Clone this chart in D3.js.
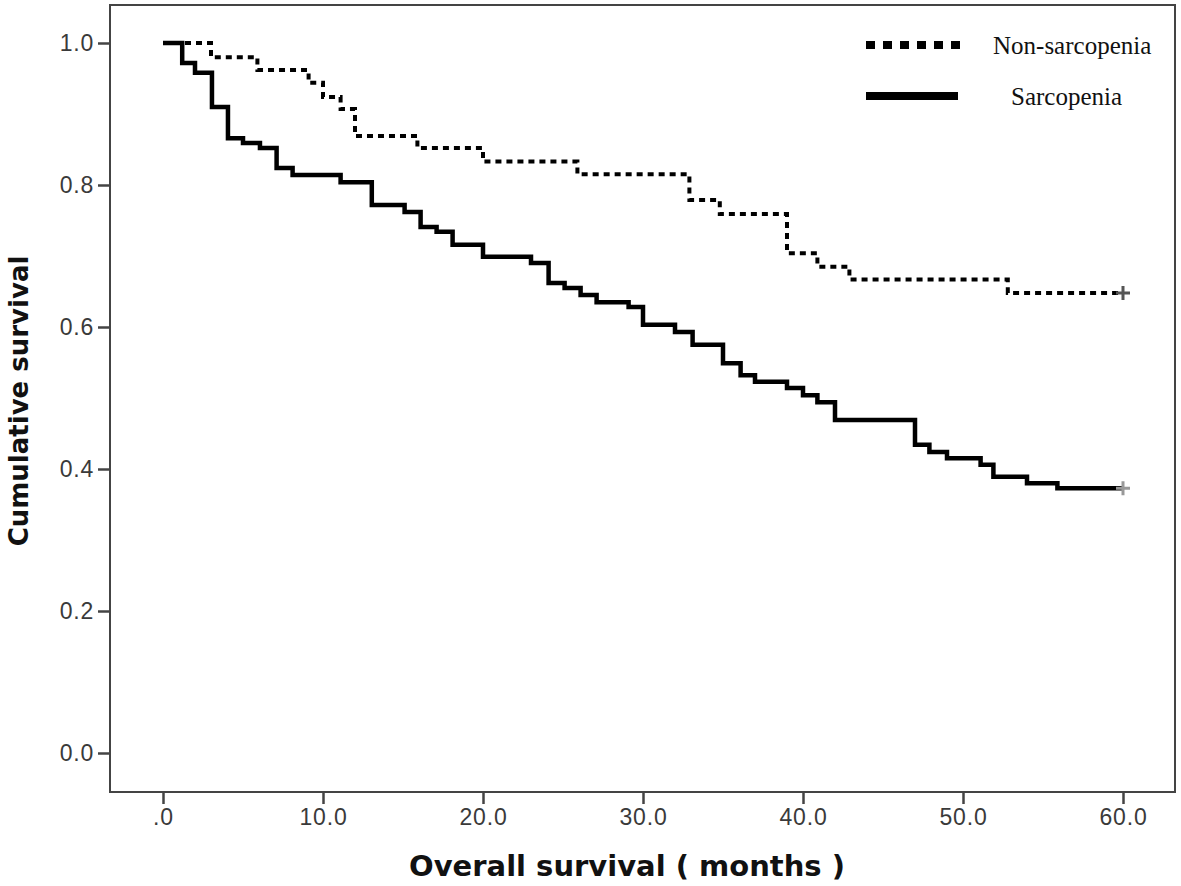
<!DOCTYPE html>
<html>
<head>
<meta charset="utf-8">
<script src="https://cdn.jsdelivr.net/npm/d3@7"></script>
<style>
  html, body { margin: 0; padding: 0; background: #fff; }
  svg { display: block; }
</style>
</head>
<body>
<svg id="chart" width="1181" height="886"></svg>
<script>
// ---- Data ----
const seriesNames = ["Non-sarcopenia", "Sarcopenia"];
const nonSarcTimes = [0, 3.0, 5.9, 9.1, 10.0, 11.1, 12.0, 15.9, 20.0, 25.9, 32.9, 34.8, 39.0, 40.9, 42.9, 52.8];
const nonSarcSurv  = [1.0, 0.980, 0.962, 0.944, 0.924, 0.907, 0.869, 0.852, 0.833, 0.815, 0.779, 0.759, 0.704, 0.685, 0.667, 0.648];
const sarcTimes = [0, 1.2, 2.0, 3.06, 4.06, 5.0, 6.06, 7.1, 8.1, 11.1, 13.05, 15.1, 16.1, 17.1, 18.1, 20.0, 23.0, 24.1, 25.1, 26.1, 27.1, 29.1, 30.0, 32.0, 33.1, 35.0, 36.1, 37.0, 39.0, 40.0, 40.9, 42.0, 47.0, 47.9, 49.0, 51.1, 51.9, 54.0, 55.9];
const sarcSurv  = [1.0, 0.972, 0.958, 0.910, 0.866, 0.859, 0.852, 0.824, 0.814, 0.804, 0.772, 0.762, 0.741, 0.734, 0.716, 0.699, 0.690, 0.662, 0.655, 0.645, 0.635, 0.628, 0.603, 0.593, 0.575, 0.549, 0.532, 0.523, 0.514, 0.504, 0.494, 0.469, 0.434, 0.424, 0.415, 0.406, 0.389, 0.380, 0.373];
const followUpEnd = 60;            // last follow-up time (censored)
const xTicks = [0, 10, 20, 30, 40, 50, 60];
const xTickLabels = [".0", "10.0", "20.0", "30.0", "40.0", "50.0", "60.0"];
const yTicks = [0.0, 0.2, 0.4, 0.6, 0.8, 1.0];
const yTickLabels = ["0.0", "0.2", "0.4", "0.6", "0.8", "1.0"];
const xTitle = "Overall survival ( months )";
const yTitle = "Cumulative survival";

// ---- Layout ----
const frame = { left: 110, top: 5, right: 1175, bottom: 792 };
const svg = d3.select("#chart");

const x = d3.scaleLinear().domain([0, 60]).range([163, 1123]);
const y = d3.scaleLinear().domain([0, 1]).range([753, 43]);

// frame
svg.append("rect")
  .attr("x", frame.left).attr("y", frame.top)
  .attr("width", frame.right - frame.left).attr("height", frame.bottom - frame.top)
  .attr("fill", "none").attr("stroke", "#444").attr("stroke-width", 2);

// axes
const yAxis = d3.axisLeft(y).tickValues(yTicks)
  .tickFormat((d, i) => yTickLabels[i]).tickSize(12).tickPadding(4);
const gy = svg.append("g").attr("transform", `translate(${frame.left},0)`).call(yAxis);
const xAxis = d3.axisBottom(x).tickValues(xTicks)
  .tickFormat((d, i) => xTickLabels[i]).tickSize(12).tickPadding(5);
const gx = svg.append("g").attr("transform", `translate(0,${frame.bottom})`).call(xAxis);

[gx, gy].forEach(g => {
  g.select(".domain").remove();
  g.selectAll(".tick line").attr("stroke", "#444").attr("stroke-width", 2.5);
  g.selectAll(".tick text")
    .attr("fill", "#3a3a3a")
    .style("font-family", "'Liberation Sans', Arial, sans-serif")
    .style("font-size", "23px")
    .style("letter-spacing", "0.8px");
});

// titles
svg.append("text")
  .attr("x", 627).attr("y", 876)
  .attr("text-anchor", "middle")
  .style("font-family", "'DejaVu Sans', Verdana, sans-serif")
  .style("font-weight", "bold").style("font-size", "29px")
  .attr("fill", "#111")
  .text(xTitle);

svg.append("text")
  .attr("transform", "translate(28,401) rotate(-90)")
  .attr("text-anchor", "middle")
  .style("font-family", "'DejaVu Sans', Verdana, sans-serif")
  .style("font-weight", "bold").style("font-size", "26px")
  .attr("fill", "#111")
  .text(yTitle);

// curves
function stepPoints(times, surv) {
  const pts = times.map((t, i) => [t, surv[i]]);
  pts.push([followUpEnd, surv[surv.length - 1]]);
  return pts;
}
const line = d3.line().x(d => x(d[0])).y(d => y(d[1])).curve(d3.curveStepAfter);

svg.append("path")
  .datum(stepPoints(nonSarcTimes, nonSarcSurv))
  .attr("d", line)
  .attr("fill", "none").attr("stroke", "#000")
  .attr("stroke-width", 4).attr("stroke-dasharray", "6,5");

svg.append("path")
  .datum(stepPoints(sarcTimes, sarcSurv))
  .attr("d", line)
  .attr("fill", "none").attr("stroke", "#000")
  .attr("stroke-width", 4.5);

// censor markers
function censor(xv, yv, color) {
  const cx = x(xv), cy = y(yv);
  svg.append("path")
    .attr("d", `M${cx - 7},${cy}H${cx + 7}M${cx},${cy - 7}V${cy + 7}`)
    .attr("stroke", color).attr("stroke-width", 3).attr("fill", "none");
}
censor(followUpEnd, nonSarcSurv[nonSarcSurv.length - 1], "#555");
censor(followUpEnd, sarcSurv[sarcSurv.length - 1], "#999");

// legend
const legend = svg.append("g");
legend.append("line")
  .attr("x1", 866).attr("x2", 960).attr("y1", 45).attr("y2", 45)
  .attr("stroke", "#000").attr("stroke-width", 8).attr("stroke-dasharray", "9,8");
legend.append("line")
  .attr("x1", 866).attr("x2", 958).attr("y1", 96).attr("y2", 96)
  .attr("stroke", "#000").attr("stroke-width", 8);
legend.append("text")
  .attr("x", 993).attr("y", 54)
  .style("font-family", "'Liberation Serif', 'Times New Roman', serif")
  .style("font-size", "25px").attr("fill", "#111")
  .text(seriesNames[0]);
legend.append("text")
  .attr("x", 1011).attr("y", 105)
  .style("font-family", "'Liberation Serif', 'Times New Roman', serif")
  .style("font-size", "25px").attr("fill", "#111")
  .text(seriesNames[1]);
</script>
</body>
</html>
